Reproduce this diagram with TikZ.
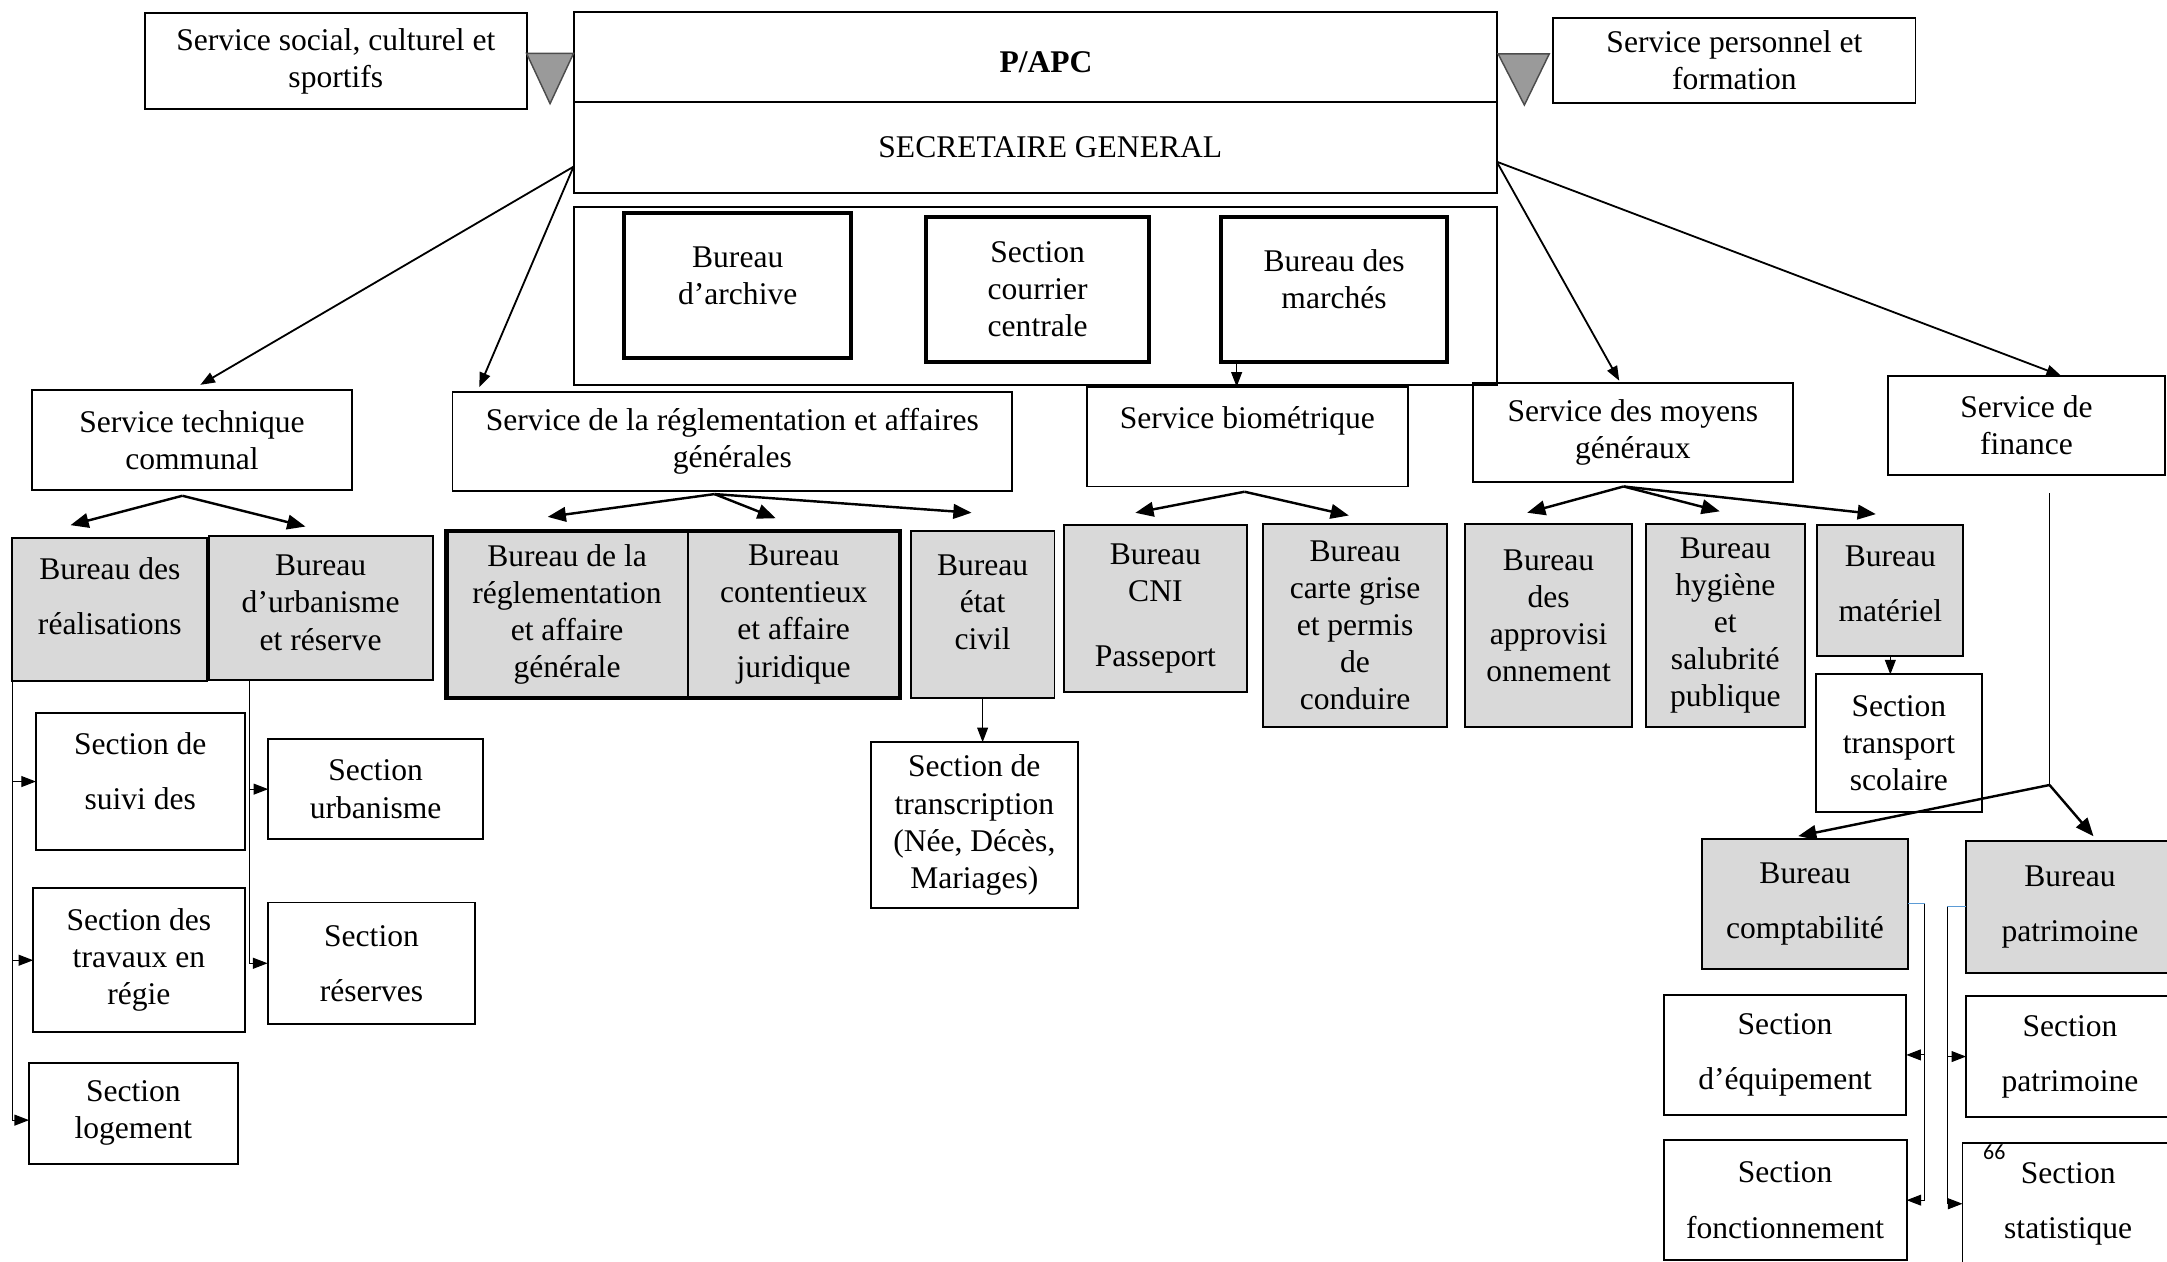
\documentclass[tikz,border=0pt]{standalone}
\usepackage{fontspec}
\setmainfont{Liberation Serif}
\newfontfamily\pagefont{Carlito}
\usetikzlibrary{arrows.meta,calc}
\definecolor{boxgrey}{HTML}{D9D9D9}
\definecolor{trigrey}{HTML}{9A9A9A}
\definecolor{stubblue}{HTML}{5B9BD5}
\begin{document}
\begin{tikzpicture}[x=0.02cm, y=-0.02cm, >={Triangle[length=6pt,width=4.5pt]},
  box/.style={draw, line width=0.8pt, align=center, inner sep=0pt, outer sep=0pt},
  grey box/.style={box, fill=boxgrey},
  heavy box/.style={box, line width=1.7pt},
  wh/.style 2 args={minimum width=#1*0.02cm, minimum height=#2*0.02cm},
  lift/.style={text depth=#1},
  link/.style={->, line width=0.75pt},
  fork/.style={-{Triangle[length=7.5pt,width=6pt]}, line width=1pt},
  wire/.style={line width=0.45pt},
  stub/.style={line width=0.45pt, draw=stubblue},
  tri/.style={fill=trigrey, draw=black!70, line width=0.6pt}]
\useasboundingbox (0,0) rectangle (1568,913);
\begin{scope}[every node/.style={font=\fontsize{13}{15.3}\selectfont}]
% top
\node [box, wh={276}{69.4}] (sc) at (243,44.3) {Service social, culturel et\\sportifs};
\node [box, wh={668}{65.6}, text height=13pt, text depth=0pt] (apc) at (749,41.2) {\hspace*{9pt}\textbf{P/APC}};
\node [box, wh={668}{65.4}] (sg) at (749,106.7) {\hspace*{12.5pt}SECRETAIRE GENERAL};
\node [box, wh={262}{61.5}] (sp) at (1255,43.6) {Service personnel et\\formation};
\node [box, wh={668}{129}] (cont) at (749,214.1) {};
\node [heavy box, wh={164}{105}, lift=8pt] (arch) at (533.8,206.5) {Bureau\\d’archive};
\node [heavy box, wh={161.6}{105}] (cour) at (750.8,209.5) {Section\\courrier\\centrale};
\node [heavy box, wh={164}{105}, lift=8pt] (march) at (965.3,209.2) {Bureau des\\marchés};
% services
\node [box, wh={232}{72.6}] (tech) at (138.9,318.3) {Service technique\\communal};
\node [box, wh={405}{72}] (regl) at (529.9,319.4) {Service de la réglementation et affaires\\générales};
\node [box, wh={232}{72.2}] (bio) at (902.5,315.9) {Service biométrique\\ \mbox{}};
\node [box, wh={232}{72}] (moy) at (1181.5,313) {Service des moyens\\généraux};
\node [box, wh={200.6}{72}] (fin) at (1466.3,307.8) {Service de\\finance};
% service technique
\node [grey box, wh={141}{104}, lift=11.4pt] (real) at (79.5,441) {Bureau des\\[7.4pt]réalisations};
\node [grey box, wh={162}{104}, lift=4.5pt] (urb) at (232,440) {Bureau\\d’urbanisme\\et réserve};
\node [box, wh={151}{99}, lift=9pt] (suivi) at (101.5,565.5) {Section de\\[7.4pt]suivi des};
\node [box, wh={153}{104.4}] (trav) at (100.5,694.8) {Section des\\travaux en\\régie};
\node [box, wh={151}{73}] (loge) at (96.5,805.5) {Section\\logement};
\node [box, wh={155.5}{72}] (secu) at (271.8,571) {Section\\urbanisme};
\node [box, wh={150.4}{88}] (resv) at (268.8,697) {Section\\[7.4pt]réserves};
% reglementation
\node [grey box, wh={174.5}{121}] (breg) at (410.3,444.5) {Bureau de la\\réglementation\\et affaire\\générale};
\node [grey box, wh={153.5}{121}] (bcont) at (574.3,444.5) {Bureau\\contentieux\\et affaire\\juridique};
\node [grey box, wh={104}{121}, lift=10.2pt] (etat) at (711,444.5) {Bureau\\état\\civil};
\node [box, wh={150}{120}] (transc) at (705,597) {Section de\\transcription\\(Née, Décès,\\Mariages)};
% biometrique
\node [grey box, wh={132}{120.5}] (cni) at (836,440.3) {Bureau\\CNI\\[11.4pt]Passeport};
\node [grey box, wh={133}{147}] (carte) at (980.5,452.5) {Bureau\\carte grise\\et permis\\de\\conduire};
% moyens generaux
\node [grey box, wh={121}{147}, lift=8pt] (appro) at (1120.5,452.5) {Bureau\\des\\approvisi\\onnement};
\node [grey box, wh={115.3}{147}] (hyg) at (1248.4,452.5) {Bureau\\hygiène\\et\\salubrité\\publique};
\node [grey box, wh={105.6}{95}, lift=5.7pt] (mat) at (1367.8,427.5) {Bureau\\[7.4pt]matériel};
\node [box, wh={120}{99.6}] (transp) at (1374,537.8) {Section\\transport\\scolaire};
% finance
\node [grey box, wh={149}{94}] (compta) at (1306.1,654) {Bureau\\[7.4pt]comptabilité};
\node [grey box, wh={150.4}{95.3}] (patr) at (1497.8,656.2) {Bureau\\[7.4pt]patrimoine};
\node [box, wh={175.5}{87}] (equip) at (1291.6,763.3) {Section\\[7.4pt]d’équipement};
\node [box, wh={175.8}{86.7}] (fonct) at (1291.7,868.4) {Section\\[7.4pt]fonctionnement};
\node [box, wh={150.4}{87}] (secpat) at (1497.8,764.5) {Section\\[7.4pt]patrimoine};
\node [box, wh={153}{88}] (stat) at (1496.5,871) {Section\\[7.4pt]statistique};
\end{scope}
\node [font=\pagefont\fontsize{9}{10}\selectfont, inner sep=0pt] (pg) at (1443,834) {66};
% triangles and group frame
\draw [tri] (381,38.6) -- (415,38.6) -- (398,75) -- cycle;
\draw [tri] (1084,39) -- (1121,39) -- (1103,76) -- cycle;
\draw [line width=1.7pt] (breg.north west) rectangle (bcont.south east);
% arrows from the secretariat
\coordinate (sgl) at ($(sg.south west)+(0,-18.8)$);
\coordinate (sgr) at ($(sg.south east)+(0,-22.4)$);
\path [link]
    (sgl) edge [shorten >=4pt] (tech.north)
          edge [shorten >=2pt] ($(regl.north west)+(18,0)$)
    (sgr) edge [shorten >=1pt] ($(moy.north)+(-9,0)$)
          edge ($(fin.north)+(25,0)$)
    ;
% forks
\coordinate (tf) at (132,358.7);
\coordinate (rf) at (517,357.5);
\coordinate (bf) at (900.5,355.8);
\coordinate (mf) at (1174.8,352);
\coordinate (ft) at (1483,357);
\coordinate (fs) at (1483,568);
\path [fork]
    (tf) edge ($(real.north)+(-28.5,-9)$)
         edge ($(urb.north)+(-11,-7)$)
    (rf) edge ($(breg.north)+(-14,-10)$)
         edge ($(bcont.north)+(-13,-9)$)
         edge ($(etat.north)+(-8,-13)$)
    (bf) edge ($(cni.north)+(-14.5,-9)$)
         edge ($(carte.north)+(-4.5,-6)$)
    (mf) edge ($(appro.north)+(-15.5,-8)$)
         edge ($(hyg.north)+(-4,-9)$)
         edge ($(mat.north)+(-10.5,-8)$)
    (fs) edge ($(compta.north)+(-5,-2)$)
         edge ($(patr.north)+(17,-3.5)$)
    ;
\draw [wire] (ft) -- (fs);
% thin connectors
\draw [wire,->] ($(march.south west)+(11.5,0)$) coordinate (mw) -- (mw |- bio.north);
\draw [wire,->] (etat.south) -- (etat.south |- transc.north);
\draw [wire,->] (mat.south) -- (mat.south |- transp.north);
\draw [wire,->] (real.south west) |- (suivi.west);
\draw [wire,->] (real.south west) |- (trav.west);
\draw [wire,->] (real.south west) |- ($(loge.west)+(0,5)$);
\coordinate (uw) at ($(urb.south west)+(29.5,0)$);
\draw [wire,->] (uw) |- (secu.west);
\draw [wire,->] (uw) |- (resv.west);
\draw [stub] (compta.east) -- ++(12,0) coordinate (cw);
\draw [wire,->] (cw) |- (equip.east);
\draw [wire,->] (cw) |- (fonct.east);
\draw [stub] (patr.west) -- ++(-13.6,0) coordinate (pw);
\draw [wire,->] (pw) |- (secpat.west);
\draw [wire,->] (pw) |- (stat.west);
\end{tikzpicture}
\end{document}
